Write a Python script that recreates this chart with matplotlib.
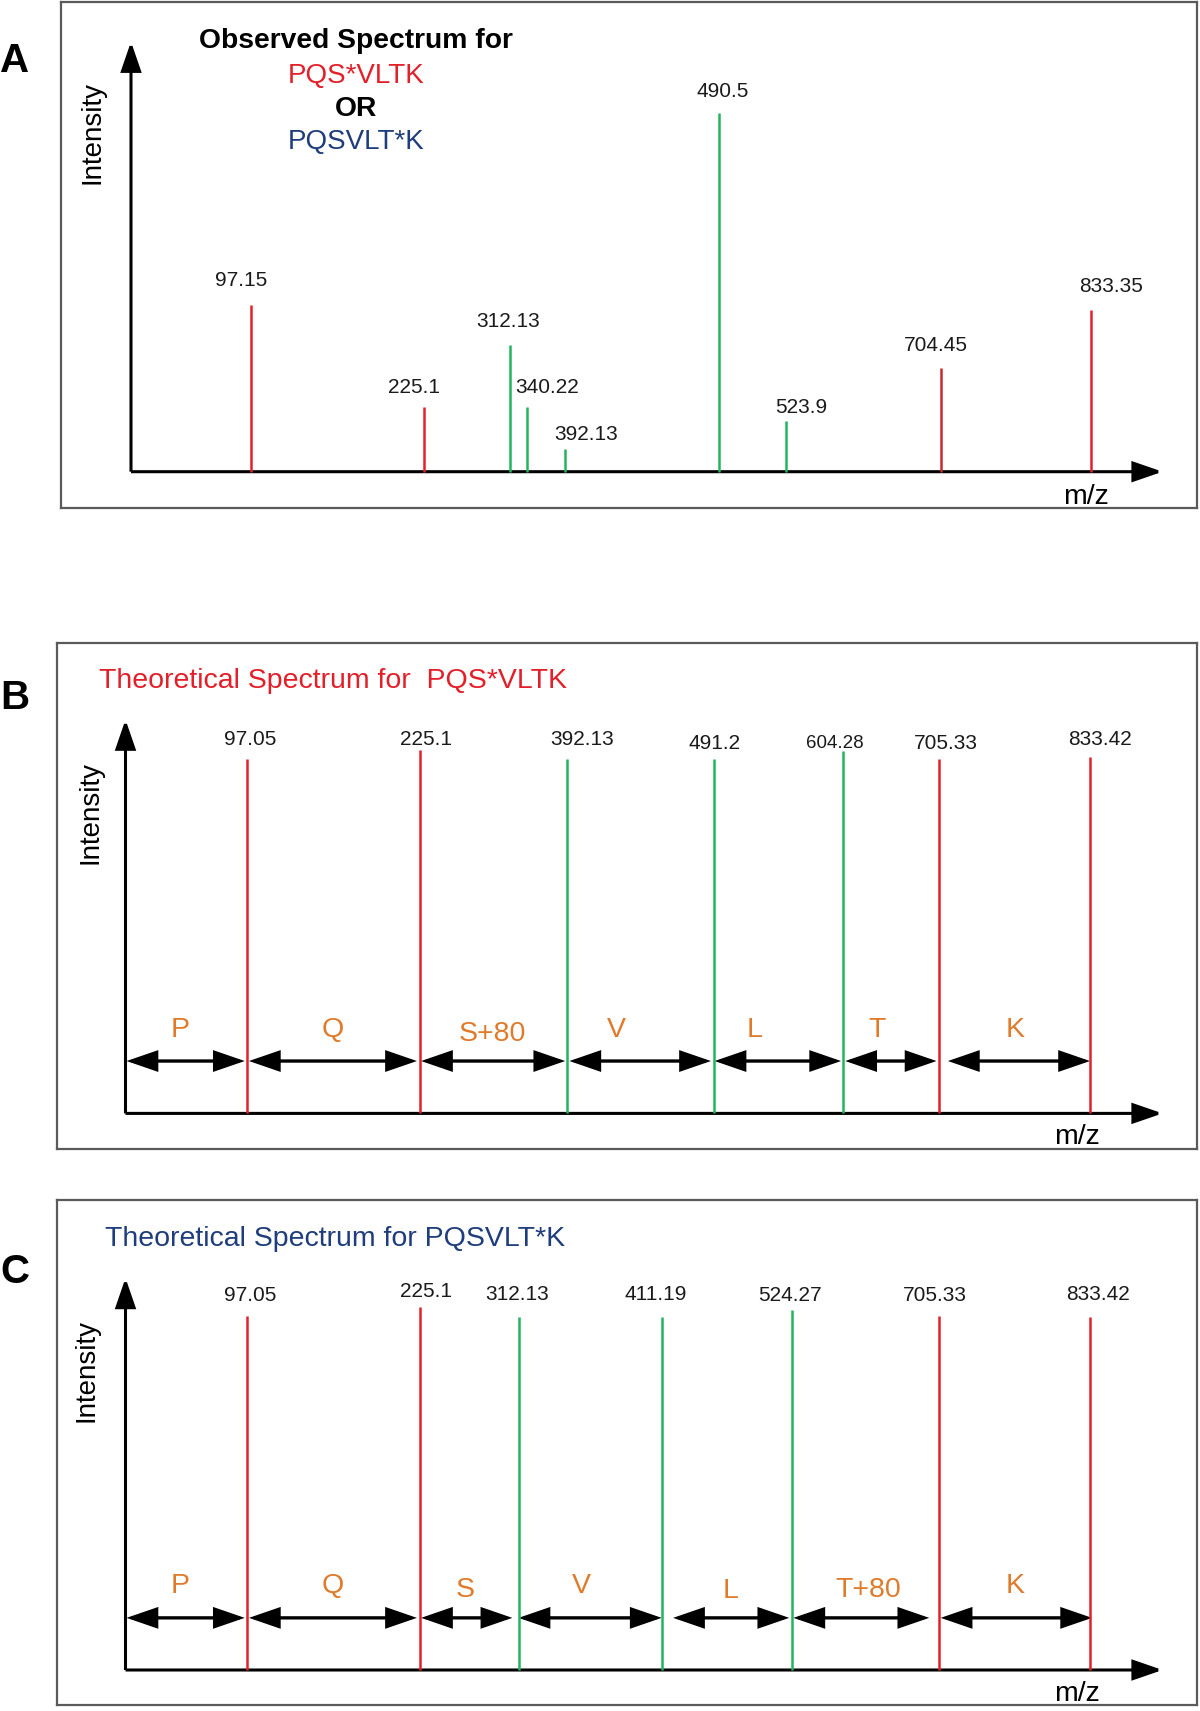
import matplotlib
matplotlib.use('Agg')
import matplotlib.pyplot as plt
from matplotlib.patches import FancyArrowPatch

plt.rcParams['font.family'] = ['Liberation Sans', 'DejaVu Sans']

W, H = 1200, 1711  # output size in px (dpi 100)

RED = '#e3202a'
DARK_RED = '#c42a2e'
GREEN = '#22b45e'
ORANGE = '#e07b2c'
NAVY = '#1f3d7c'
COLORS = {'r': RED, 'd': DARK_RED, 'g': GREEN}

# x = position along the m/z axis (% of axis length), y = peak height (% of axis height)
# Panel A - observed spectrum
a_labels = ['97.15', '225.1', '312.13', '340.22', '392.13', '490.5', '523.9', '704.45', '833.35']
a_pos = [11.6, 28.4, 36.7, 38.4, 42.1, 57.0, 63.5, 78.5, 93.1]
a_height = [38.8, 15.0, 29.5, 15.0, 5.3, 83.4, 11.8, 24.1, 37.6]
a_group = ['r', 'r', 'g', 'g', 'g', 'g', 'g', 'd', 'r']

# Panel B - theoretical spectrum PQS*VLTK
b_labels = ['97.05', '225.1', '392.13', '491.2', '604.28', '705.33', '833.42']
b_pos = [11.7, 28.4, 42.6, 56.7, 69.2, 78.4, 93.0]
b_height = [90.1, 92.3, 90.1, 90.1, 92.0, 90.1, 90.6]
b_group = ['r', 'r', 'g', 'g', 'g', 'r', 'r']
b_residues = ['P', 'Q', 'S+80', 'V', 'L', 'T', 'K']
b_span_start = [0.1, 11.9, 28.5, 42.8, 56.8, 69.4, 79.3]
b_span_end = [11.5, 28.1, 42.4, 56.45, 69.0, 78.2, 93.0]

# Panel C - theoretical spectrum PQSVLT*K
c_labels = ['97.05', '225.1', '312.13', '411.19', '524.27', '705.33', '833.42']
c_pos = [11.7, 28.4, 37.9, 51.7, 64.3, 78.4, 93.0]
c_height = [90.3, 92.7, 90.1, 90.1, 91.8, 90.3, 90.1]
c_group = ['r', 'r', 'g', 'g', 'g', 'r', 'r']
c_residues = ['P', 'Q', 'S', 'V', 'L', 'T+80', 'K']
c_span_start = [0.1, 11.9, 28.5, 37.9, 52.8, 64.4, 78.6]
c_span_end = [11.5, 28.1, 37.3, 51.7, 64.0, 77.5, 93.2]


def fx(x):
    return x / W


def fy(y):
    return 1 - y / H


def make_panel(fig, box, origin, tip):
    """axes covering the frame box; data units = % of the drawn axis arrows"""
    left, top, right, bottom = box
    ax = fig.add_axes([fx(left), fy(bottom), (right - left) / W, (bottom - top) / H])
    sx = (tip[0] - origin[0]) / 100.0
    sy = (origin[1] - tip[1]) / 100.0
    ax.set_xlim((left - origin[0]) / sx, (right - origin[0]) / sx)
    ax.set_ylim((origin[1] - bottom) / sy, (origin[1] - top) / sy)
    ax.set_xticks([])
    ax.set_yticks([])
    for s in ax.spines.values():
        s.set_color('#5a5a5a')
        s.set_linewidth(1.6)
    # axis arrows
    for end in [(100, 0), (0, 100)]:
        ax.add_patch(FancyArrowPatch((0, 0), end, arrowstyle='-|>,head_length=18,head_width=6.2',
                                     mutation_scale=1, lw=2.2, color='black',
                                     shrinkA=0, shrinkB=0, joinstyle='miter', capstyle='butt'))
    return ax


def draw_peaks(ax, pos, height, group, labels, dx, dy, sizes=None):
    ax.vlines(pos, 0, height, colors=[COLORS[g] for g in group], lw=1.8)
    for i, (x, h, lab) in enumerate(zip(pos, height, labels)):
        fs = sizes[i] if sizes else 15
        # -2 px: text box centre sits a little above the visual centre of digits
        ax.annotate(lab, (x, h), xytext=(dx[i], dy[i] - 2), textcoords='offset pixels',
                    ha='center', va='center', fontsize=fs, color='#1a1a1a')


def draw_spans(ax, starts, ends, y, residues, lab_x, lab_y):
    for s, e in zip(starts, ends):
        ax.add_patch(FancyArrowPatch((s, y), (e, y), arrowstyle='<|-|>,head_length=18,head_width=6.2',
                                     mutation_scale=1, lw=2.4, color='black',
                                     shrinkA=0, shrinkB=0, joinstyle='miter', capstyle='butt'))
    for r, x, yy in zip(residues, lab_x, lab_y):
        ax.annotate(r, (x, yy), xytext=(0, -3), textcoords='offset pixels',
                    ha='center', va='center', fontsize=20.5, color=ORANGE)


fig = plt.figure(figsize=(W / 100, H / 100), dpi=100)

# ---------------- A ----------------
axA = make_panel(fig, (61, 2, 1197, 508), (131, 471.7), (1162.6, 41.7))
draw_peaks(axA, a_pos, a_height, a_group, a_labels,
           [-10, -10, -1, 20, 21, 4, 15, -5, 19.5],
           [26, 22, 25, 22, 16, 24, 15, 25, 26])
fig.text(fx(356), fy(41), 'Observed Spectrum for', ha='center', va='center', fontsize=20.3, fontweight='bold')
fig.text(fx(356), fy(75.5), 'PQS*VLTK', ha='center', va='center', fontsize=20, color=RED)
fig.text(fx(356), fy(109), 'OR', ha='center', va='center', fontsize=20.3, fontweight='bold')
fig.text(fx(356), fy(142), 'PQSVLT*K', ha='center', va='center', fontsize=20, color=NAVY)
fig.text(fx(92), fy(132.5), 'Intensity', rotation=90, ha='center', va='center', fontsize=20)
fig.text(fx(1086), fy(497), 'm/z', ha='center', va='center', fontsize=20.5)
fig.text(fx(15), fy(61), 'A', ha='center', va='center', fontsize=29, fontweight='bold')

# ---------------- B ----------------
axB = make_panel(fig, (56.6, 642.8, 1197, 1149), (125.5, 1113.4), (1162.6, 719.6))
draw_peaks(axB, b_pos, b_height, b_group, b_labels,
           [3, 6, 15, 1, -8, 7, 10],
           [21, 12.5, 21, 17, 9.4, 17, 19],
           sizes=[15, 15, 15, 15, 13.5, 15, 15])
draw_spans(axB, b_span_start, b_span_end, 13.3, b_residues,
           [5.3, 20.0, 35.4, 47.3, 60.7, 72.5, 85.8],
           [21.9, 21.9, 21.0, 21.9, 21.9, 21.9, 21.9])
fig.text(fx(98.7), fy(681.5), 'Theoretical Spectrum for  PQS*VLTK', ha='left', va='center',
         fontsize=20.5, color=RED)
fig.text(fx(90), fy(812.6), 'Intensity', rotation=90, ha='center', va='center', fontsize=20)
fig.text(fx(1076.5), fy(1137.5), 'm/z', ha='center', va='center', fontsize=20.5)
fig.text(fx(15), fy(698), 'B', ha='center', va='center', fontsize=29, fontweight='bold')

# ---------------- C ----------------
axC = make_panel(fig, (56.6, 1200, 1197, 1705), (125.5, 1670), (1162.6, 1278))
draw_peaks(axC, c_pos, c_height, c_group, c_labels,
           [3, 6, -1, -6, -2, -4, 8],
           [23, 17, 24, 24, 17, 23, 24])
draw_spans(axC, c_span_start, c_span_end, 13.3, c_residues,
           [5.3, 20.0, 32.8, 44.0, 58.3, 71.6, 85.8],
           [22.2, 22.2, 21.3, 22.2, 20.9, 21.3, 22.2])
fig.text(fx(105), fy(1239), 'Theoretical Spectrum for PQSVLT*K', ha='left', va='center',
         fontsize=20.5, color=NAVY)
fig.text(fx(86), fy(1370), 'Intensity', rotation=90, ha='center', va='center', fontsize=20)
fig.text(fx(1076.5), fy(1694), 'm/z', ha='center', va='center', fontsize=20.5)
fig.text(fx(15), fy(1272), 'C', ha='center', va='center', fontsize=29, fontweight='bold')

fig.savefig('out.png', dpi=100)
plt.close(fig)
